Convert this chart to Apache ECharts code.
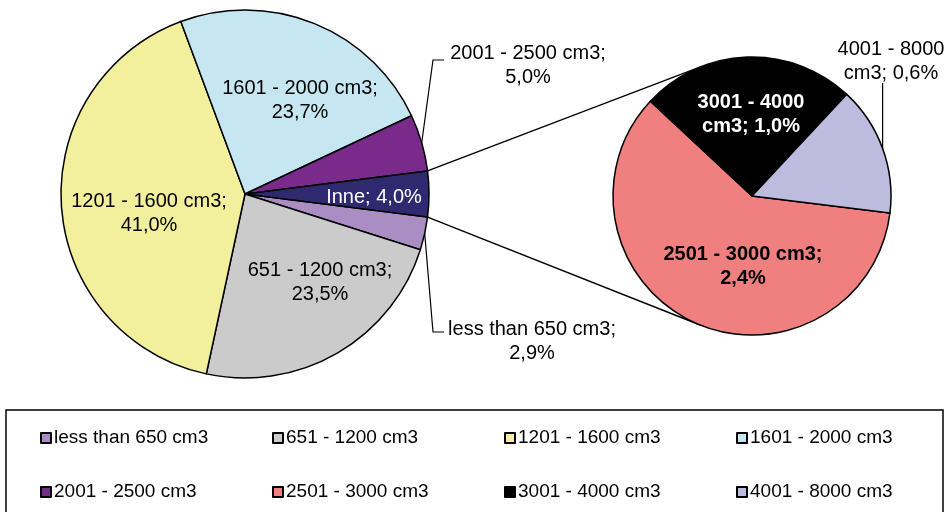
<!DOCTYPE html>
<html>
<head>
<meta charset="utf-8">
<script src="https://cdn.jsdelivr.net/npm/echarts@6/dist/echarts.min.js"></script>
<style>
  html, body { margin: 0; padding: 0; background: #ffffff; }
  #chart { width: 948px; height: 512px; }
</style>
</head>
<body>
<div id="chart"></div>
<script>
// Engine capacity shares (%); "Inne" is broken out in the small pie
const mainNames = ['less than 650 cm3', '651 - 1200 cm3', '1201 - 1600 cm3', '1601 - 2000 cm3', '2001 - 2500 cm3', 'Inne'];
const mainValues = [2.9, 23.5, 41.0, 23.7, 5.0, 4.0];
const subNames = ['2501 - 3000 cm3', '3001 - 4000 cm3', '4001 - 8000 cm3'];
const subValues = [2.4, 1.0, 0.6];
const legendRow1 = ['less than 650 cm3', '651 - 1200 cm3', '1201 - 1600 cm3', '1601 - 2000 cm3'];
const legendRow2 = ['2001 - 2500 cm3', '2501 - 3000 cm3', '3001 - 4000 cm3', '4001 - 8000 cm3'];

// Styling
const mainColors = ['#a98dc3', '#cbcbcb', '#f2f09c', '#c6e7f1', '#7a2a8a', '#2f2a70'];
const subColors = ['#f08080', '#000000', '#bdbbde'];
const FONT = '"Liberation Sans", Arial, sans-serif';

// Geometry of both pies
const mainC = [245, 194], mainR = 184;
const subC = [752, 196], subR = 139;
const subStart = -7;

// Label block centres relative to each pie centre
const mainLabelAt = [[287, 147], [75, 88], [-96, 19], [55, -93.5], [283, -129], [129, 3]];
const subLabelAt = [[-9, 70], [-1, -81.5], [139, -134.5]];

const sum = a => a.reduce((s, v) => s + v, 0);
const mainTotal = sum(mainValues);
const subTotal = sum(subValues);
const inneSweep = mainValues[5] / mainTotal * 360;
const mainStart = -inneSweep / 2;   // centre the split slice on 3 o'clock

const fmt = v => v.toFixed(1).replace('.', ',') + '%';

// phi: degrees clockwise from 12 o'clock
function pt(c, r, phi) {
  const a = phi * Math.PI / 180;
  return [c[0] + r * Math.sin(a), c[1] - r * Math.cos(a)];
}
function midPhi(values, total, start, i) {
  let cum = 0;
  for (let k = 0; k < i; k++) cum += values[k];
  return (90 - start) + (cum + values[i] / 2) / total * 360;
}
function tangent(p, c, r, upper) {
  const dx = p[0] - c[0], dy = p[1] - c[1];
  const d = Math.hypot(dx, dy);
  const base = Math.atan2(dy, dx);
  const off = Math.acos(r / d);
  const a = [base + off, base - off].map(t => [c[0] + r * Math.cos(t), c[1] + r * Math.sin(t)]);
  a.sort((m, n) => m[1] - n[1]);
  return upper ? a[0] : a[1];
}

// Connector lines from the split slice to the small pie
const innePhiTop = 90 - inneSweep / 2;
const innePhiBot = 90 + inneSweep / 2;
const pTop = pt(mainC, mainR, innePhiTop);
const pBot = pt(mainC, mainR, innePhiBot);
const tTop = tangent(pTop, subC, subR, true);
const tBot = tangent(pBot, subC, subR, false);

const baseLabel = {
  fontFamily: FONT, fontSize: 20, lineHeight: 24, color: '#000', align: 'center'
};

const mainData = mainNames.map((n, i) => {
  const item = { name: n, value: mainValues[i], itemStyle: { color: mainColors[i] } };
  const outside = (i === 0 || i === 4);
  item.label = {
    ...baseLabel,
    position: outside ? 'outside' : 'inside',
    color: i === 5 ? '#ffffff' : '#000000',
    formatter: i === 5 ? n + '; ' + fmt(mainValues[i]) : n + ';\n' + fmt(mainValues[i])
  };
  item.labelLine = { show: outside, lineStyle: { color: '#000', width: 1.2 } };
  return item;
});

const subData = subNames.map((n, i) => {
  const v = fmt(subValues[i]);
  const parts = n.split(' cm3');
  const item = { name: n, value: subValues[i], itemStyle: { color: subColors[i] } };
  item.label = {
    ...baseLabel,
    position: i === 2 ? 'outside' : 'inside',
    fontWeight: i === 2 ? 'normal' : 'bold',
    color: i === 1 ? '#ffffff' : '#000000',
    formatter: i === 0 ? n + ';\n' + v : parts[0] + '\ncm3; ' + v
  };
  item.labelLine = { show: i === 2, lineStyle: { color: '#000', width: 1.2 } };
  return item;
});

const chart = echarts.init(document.getElementById('chart'), null, { renderer: 'canvas' });

const legendBase = {
  orient: 'horizontal',
  left: 40,
  width: 1000,
  padding: 0,
  itemWidth: 10,
  itemHeight: 10,
  itemGap: 5,
  icon: 'rect',
  selectedMode: false,
  textStyle: { fontFamily: FONT, fontSize: 19, lineHeight: 20, color: '#000', width: 213, padding: [0, 0, 0, -2] }
};

chart.setOption({
  animation: false,
  backgroundColor: '#ffffff',
  legend: [
    { ...legendBase, top: 428, data: legendRow1 },
    { ...legendBase, top: 482, data: legendRow2 }
  ],
  graphic: [
    {
      type: 'rect', z: -1,
      shape: { x: 6, y: 410, width: 937, height: 120 },
      style: { fill: 'none', stroke: '#000', lineWidth: 1.5 }
    },
    {
      type: 'line', z: 1,
      shape: { x1: pTop[0], y1: pTop[1], x2: tTop[0], y2: tTop[1] },
      style: { stroke: '#000', lineWidth: 1.4 }
    },
    {
      type: 'line', z: 1,
      shape: { x1: pBot[0], y1: pBot[1], x2: tBot[0], y2: tBot[1] },
      style: { stroke: '#000', lineWidth: 1.4 }
    }
  ],
  series: [
    {
      type: 'pie',
      center: mainC,
      radius: mainR,
      startAngle: mainStart,
      clockwise: true,
      avoidLabelOverlap: false,
      itemStyle: { borderColor: '#000', borderWidth: 1.5 },
      emphasis: { disabled: true },
      data: mainData,
      labelLayout: function (p) {
        const i = p.dataIndex;
        const off = mainLabelAt[i];
        const res = {
          x: mainC[0] + off[0], y: mainC[1] + off[1],
          align: 'center', verticalAlign: 'middle'
        };
        if (i === 0 || i === 4) {
          const arc = pt(mainC, mainR, midPhi(mainValues, mainTotal, mainStart, i));
          const yy = i === 0 ? mainC[1] + 138 : mainC[1] - 134;
          res.labelLinePoints = [arc, [mainC[0] + 188, yy], [mainC[0] + 199, yy]];
        }
        return res;
      }
    },
    {
      type: 'pie',
      center: subC,
      radius: subR,
      startAngle: subStart,
      clockwise: true,
      avoidLabelOverlap: false,
      itemStyle: { borderColor: '#000', borderWidth: 1.5 },
      emphasis: { disabled: true },
      data: subData,
      labelLayout: function (p) {
        const i = p.dataIndex;
        const off = subLabelAt[i];
        const res = {
          x: subC[0] + off[0], y: subC[1] + off[1],
          align: 'center', verticalAlign: 'middle'
        };
        if (i === 2) {
          const arc = pt(subC, subR, midPhi(subValues, subTotal, subStart, i));
          const topY = subC[1] - 113;
          res.labelLinePoints = [arc, [arc[0], (arc[1] + topY) / 2], [arc[0], topY]];
        }
        return res;
      }
    }
  ]
});
</script>
</body>
</html>
